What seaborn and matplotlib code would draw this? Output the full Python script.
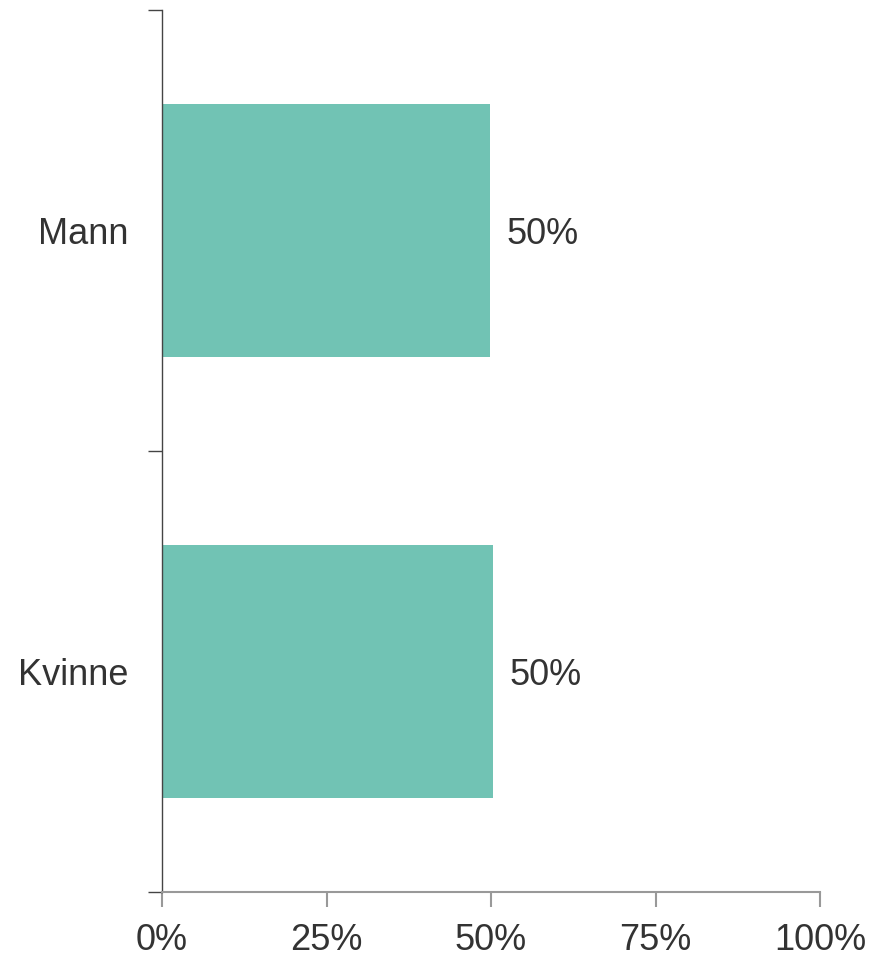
import matplotlib
matplotlib.use("Agg")
import matplotlib.pyplot as plt
import seaborn as sns
import pandas as pd
from matplotlib.ticker import PercentFormatter

# data
categories = ["Mann", "Kvinne"]
shares = [49.8, 50.3]
bar_labels = ["50%", "50%"]
x_ticks = [0, 25, 50, 75, 100]

df = pd.DataFrame({"kjonn": categories, "andel": shares})

sns.set_style("white")
plt.rcParams["font.family"] = ["Liberation Sans", "DejaVu Sans"]

fig = plt.figure(figsize=(8.73, 9.56), dpi=100)
ax = fig.add_axes([162 / 873, 1 - 892 / 956, (820 - 162) / 873, (892 - 10) / 956])

sns.barplot(data=df, x="andel", y="kjonn", color="#71c3b4", saturation=1,
            width=0.575, ax=ax, edgecolor="none")

ax.set_xlim(0, 100)
ax.set_ylim(1.5, -0.5)
ax.set_xticks(x_ticks)
ax.xaxis.set_major_formatter(PercentFormatter(decimals=0))
ax.set_xlabel("")
ax.set_ylabel("")

# category ticks sit at the boundaries, labels at the centres
ax.set_yticks([-0.5, 0.5, 1.5])
ax.set_yticklabels([])
ax.set_yticks([0, 1], minor=True)
ax.set_yticklabels(categories, minor=True)
ax.tick_params(axis="y", which="minor", left=True, length=0, pad=24,
               labelsize=26, labelcolor="#333333")
ax.tick_params(axis="y", which="major", left=True, length=10, width=1, color="#444444")
ax.tick_params(axis="x", bottom=True, length=11, width=1.5, color="#999999", pad=11,
               labelsize=26, labelcolor="#333333")

for s in ["top", "right"]:
    ax.spines[s].set_visible(False)
ax.spines["left"].set_color("#444444")
ax.spines["left"].set_linewidth(1)
ax.spines["bottom"].set_color("#999999")
ax.spines["bottom"].set_linewidth(1.5)

for i, (v, lab) in enumerate(zip(shares, bar_labels)):
    ax.annotate(lab, xy=(v, i), xytext=(17, -4), textcoords="offset pixels",
                ha="left", va="center", fontsize=26, color="#333333")

fig.savefig("out.png", dpi=100, facecolor="white")
